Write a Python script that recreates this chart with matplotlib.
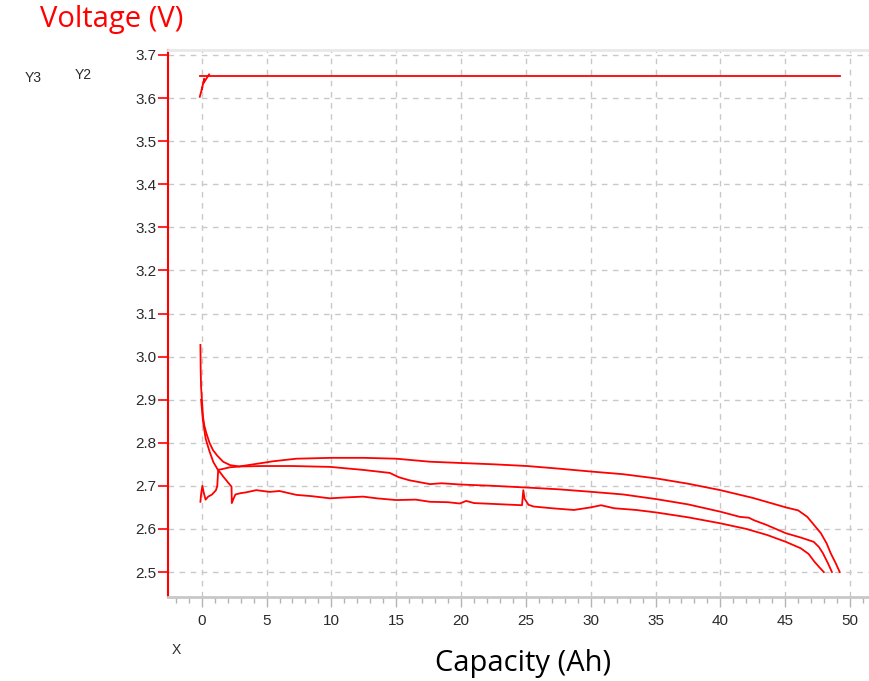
import numpy as np
import matplotlib
matplotlib.use("Agg")
import matplotlib.pyplot as plt
from matplotlib.ticker import MultipleLocator

## Data
# charge step (Y2)
charge_cap = [-0.15, 49.25]
charge_v = [3.652, 3.652]
charge_start_cap = [-0.15, 0.05, 0.0, 0.2, 0.15, 0.57]
charge_start_v = [3.603, 3.625, 3.62, 3.645, 3.635, 3.655]

# discharge, upper curve
upper_cap = [-0.1, -0.08, -0.05, 0.1, 0.2, 0.36, 0.6, 0.87, 1.2, 1.65, 2.2, 2.9, 4.0,
             5.5, 7.3, 10, 12.5, 15, 17.6, 20, 22.5, 25.1, 27.5, 30.1, 32.5, 35.1,
             37.5, 40.0, 42.5, 45.05, 46.0, 46.7, 47.2, 47.75, 48.2, 48.5, 48.9, 49.2]
upper_v = [3.027, 2.97, 2.93, 2.86, 2.84, 2.822, 2.80, 2.783, 2.77, 2.756, 2.748,
           2.745, 2.75, 2.757, 2.763, 2.765, 2.765, 2.763, 2.756, 2.753, 2.75, 2.746,
           2.74, 2.733, 2.727, 2.717, 2.705, 2.69, 2.672, 2.65, 2.643, 2.628, 2.61,
           2.59, 2.566, 2.544, 2.52, 2.50]

# discharge, middle curve
middle_cap = [-0.05, 0.1, 0.3, 0.6, 0.9, 1.25, 1.6, 2.16, 3.0, 4.7, 7.0, 9.9, 12.45,
              14.5, 15.2, 16.0, 17.6, 18.5, 20, 22.5, 25.1, 27.5, 30.1, 32.5, 35.1,
              37.5, 40.0, 41.5, 42.2, 42.6, 43.5, 45.05, 46.2, 47.2, 47.6, 47.9,
              48.3, 48.6]
middle_v = [2.90, 2.85, 2.81, 2.78, 2.755, 2.737, 2.739, 2.743, 2.745, 2.746, 2.746,
            2.744, 2.737, 2.73, 2.72, 2.713, 2.704, 2.706, 2.703, 2.70, 2.696, 2.692,
            2.686, 2.68, 2.669, 2.657, 2.64, 2.628, 2.626, 2.62, 2.61, 2.59, 2.58,
            2.57, 2.558, 2.544, 2.52, 2.50]

# discharge, lower curve
lower_cap = [-0.1, -0.05, 0.05, 0.15, 0.3, 0.5, 0.8, 1.1, 1.2, 1.27, 1.7, 2.3, 2.32,
             2.45, 2.6, 3.0, 3.45, 4.2, 5.25, 6.0, 7.3, 8.5, 9.9, 11, 12.45, 13.5, 15,
             16.5, 17.6, 19, 19.9, 20.4, 21, 22.5, 24.7, 24.8, 24.9, 25.2, 25.6, 27,
             28.7, 30, 30.8, 31.8, 33.5, 35.1, 37.5, 40, 42, 43.6, 45.05, 46.2, 46.8,
             47.25, 47.6, 47.97]
lower_v = [2.663, 2.68, 2.70, 2.685, 2.668, 2.675, 2.68, 2.69, 2.70, 2.737, 2.72,
           2.698, 2.66, 2.67, 2.68, 2.683, 2.685, 2.69, 2.686, 2.688, 2.679, 2.676,
           2.671, 2.673, 2.675, 2.671, 2.667, 2.668, 2.663, 2.662, 2.659, 2.665, 2.66,
           2.658, 2.655, 2.69, 2.67, 2.656, 2.652, 2.648, 2.644, 2.65, 2.655, 2.648,
           2.644, 2.638, 2.627, 2.613, 2.6, 2.586, 2.57, 2.555, 2.542, 2.524, 2.512,
           2.50]

y_ticks = [2.5, 2.6, 2.7, 2.8, 2.9, 3.0, 3.1, 3.2, 3.3, 3.4, 3.5, 3.6, 3.7]
x_ticks = [0, 5, 10, 15, 20, 25, 30, 35, 40, 45, 50]


def main():
    W, H = 869, 681
    fig = plt.figure(figsize=(W / 100, H / 100), dpi=100)
    ax = fig.add_axes([168 / W, 1 - 597 / H, 1 - 168 / W, (597 - 50) / H])

    red = "#ff0000"
    lw = 1.3
    ax.plot(charge_cap, charge_v, color=red, lw=lw)
    ax.plot(charge_start_cap, charge_start_v, color=red, lw=lw)
    ax.plot(upper_cap, upper_v, color=red, lw=lw)
    ax.plot(middle_cap, middle_v, color=red, lw=lw)
    ax.plot(lower_cap, lower_v, color=red, lw=lw)

    # Axes limits
    ax.set_xlim(-2.6, 51.46)
    ax.set_ylim(2.442, 3.7116)

    # Spines
    ax.spines["left"].set_color(red)
    ax.spines["left"].set_linewidth(1.5)
    ax.spines["bottom"].set_color("#c8c8c8")
    ax.spines["bottom"].set_linewidth(2)
    ax.spines["top"].set_color("#e8e8e8")
    ax.spines["top"].set_linewidth(2)
    ax.spines["right"].set_visible(False)

    # Ticks
    ax.set_yticks(y_ticks)
    ax.set_yticklabels([f"{v:.1f}" for v in y_ticks])
    ax.set_xticks(x_ticks)
    ax.xaxis.set_minor_locator(MultipleLocator(1))
    ax.tick_params(axis="y", direction="out", length=7, width=1.2, color=red,
                   labelcolor="#2a2a2a", labelsize=11, pad=1.5)
    ax.tick_params(axis="x", which="major", direction="out", length=7, width=1,
                   color="#b4b4b4", labelcolor="#2a2a2a", labelsize=11, pad=5)
    ax.tick_params(axis="x", which="minor", direction="out", length=4, width=1,
                   color="#b4b4b4")
    for lab in ax.get_xticklabels() + ax.get_yticklabels():
        lab.set_family("Liberation Sans")

    # Grid
    ax.grid(True, which="major", color="#c8c8c8", linestyle=(0, (4, 4)), linewidth=1)

    # Texts
    fig.text(40 / W, 1 - 20 / H, "Voltage (V)", color=red, fontsize=21,
             family="Open Sans", va="center", ha="left")
    fig.text(523 / W, 1 - 664 / H, "Capacity (Ah)", color="black", fontsize=21,
             family="Open Sans", va="center", ha="center")
    fig.text(33 / W, 1 - 78 / H, "Y3", color="#2a2a2a", fontsize=10,
             family="Liberation Sans", va="center", ha="center")
    fig.text(83 / W, 1 - 75 / H, "Y2", color="#2a2a2a", fontsize=10,
             family="Liberation Sans", va="center", ha="center")
    fig.text(176 / W, 1 - 650 / H, "X", color="#2a2a2a", fontsize=10,
             family="Liberation Sans", va="center", ha="center")

    fig.savefig("out.png", dpi=100)


if __name__ == "__main__":
    main()
